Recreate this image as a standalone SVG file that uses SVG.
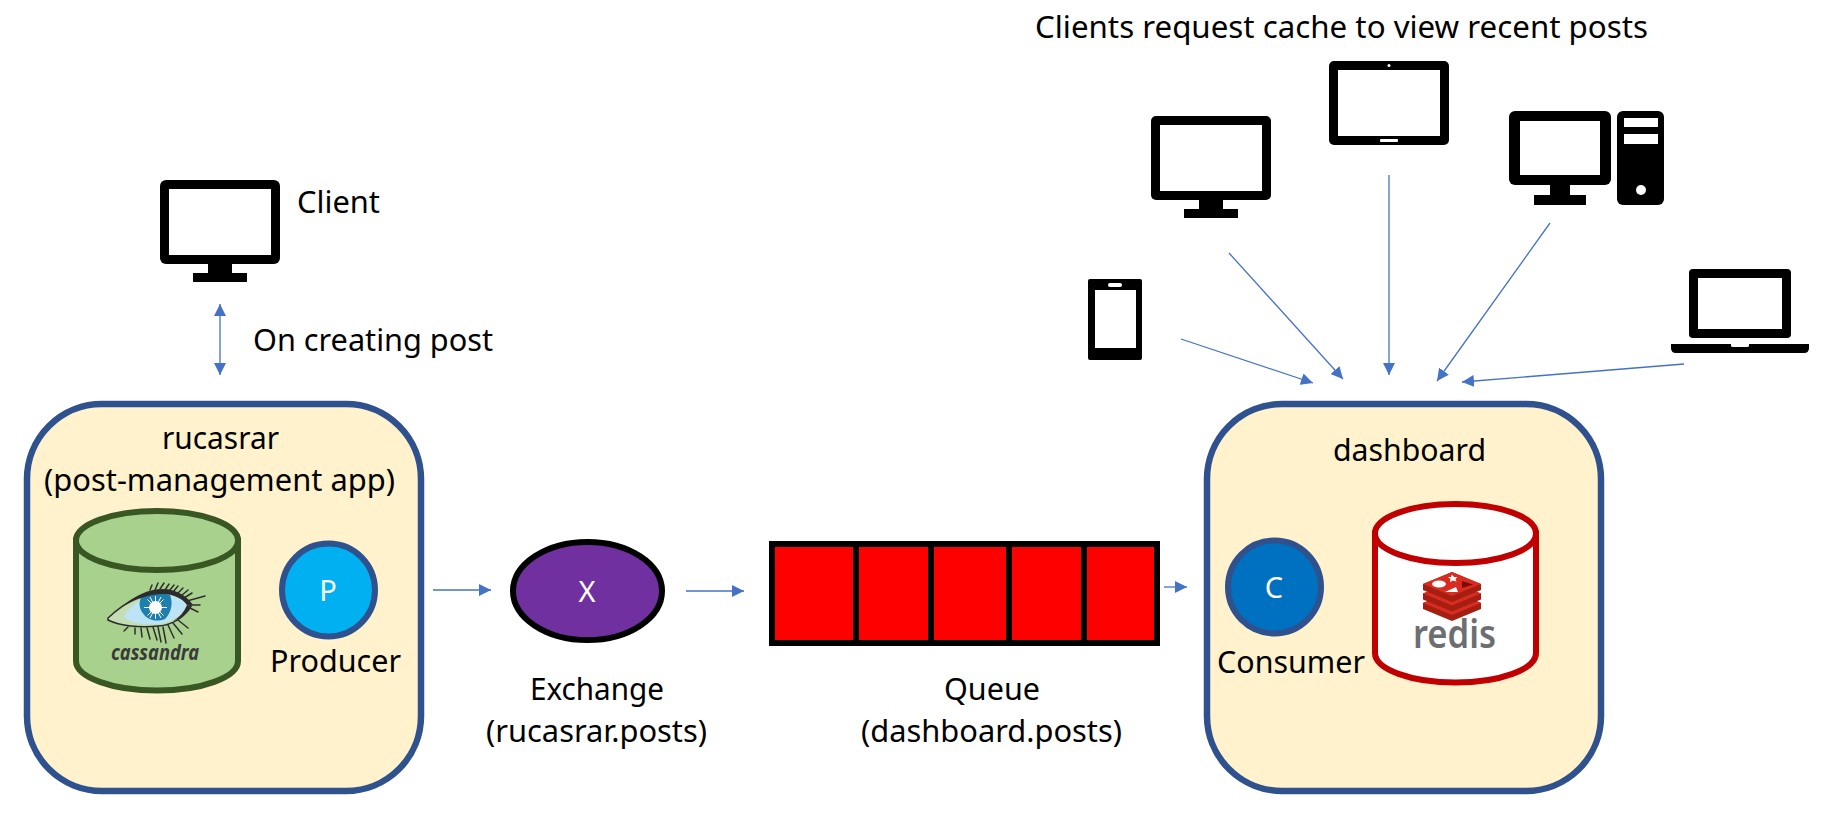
<svg xmlns="http://www.w3.org/2000/svg" width="1826" height="813" viewBox="0 0 1826 813">
<style>
text{font-family:"Noto Sans","Open Sans","Liberation Sans",sans-serif;font-size:31px;fill:#000}
.w{fill:#fff;font-size:29px}
.box{fill:#FFF2CC;stroke:#2F528F;stroke-width:6.500}
.k{fill:#000}.i{fill:#fff}
.c{fill:none;stroke:#4472C4;stroke-width:1.300}
.a{marker-end:url(#ah)}
.lash{stroke:#2f2f2f;stroke-width:1.500;fill:none;stroke-linecap:round}
</style>
<defs>
<marker id="ah" markerUnits="userSpaceOnUse" markerWidth="12" markerHeight="12" refX="12" refY="6" orient="auto"><path d="M0 0L12 6L0 12Z" fill="#4472C4"/></marker>
<marker id="as" markerUnits="userSpaceOnUse" markerWidth="12" markerHeight="12" refX="12" refY="6" orient="auto-start-reverse"><path d="M0 0L12 6L0 12Z" fill="#4472C4"/></marker>
<path id="rl" d="M1423 584L1452 572L1481 584V590L1452 602L1423 590Z" fill="#A41E11"/>
<path id="rt" d="M1423 584L1452 572L1481 584L1452 596Z" fill="#D82C20"/>
</defs>

<g id="connectors">
<path class="c" d="M220 304V375" marker-start="url(#as)" marker-end="url(#as)"/>
<path class="c a" d="M433 590H491"/>
<path class="c a" d="M686 591H744"/>
<path class="c a" d="M1164 587H1187"/>
<path class="c a" d="M1181 339L1313 383"/>
<path class="c a" d="M1229 253L1343 379"/>
<path class="c a" d="M1389 175V375"/>
<path class="c a" d="M1550 223L1437 381"/>
<path class="c a" d="M1684 364L1462 382"/>
</g>

<g id="client-monitor">
<rect class="k" x="160" y="180" width="120" height="84" rx="6"/><rect class="i" x="169" y="189" width="102" height="66"/>
<rect class="k" x="208" y="264" width="24" height="9"/><rect class="k" x="193" y="273" width="54" height="9"/>
<text x="297" y="213" textLength="83" lengthAdjust="spacingAndGlyphs">Client</text>
</g>
<text id="label-post" x="253" y="351" textLength="240" lengthAdjust="spacingAndGlyphs">On creating post</text>
<text id="label-clients" x="1035" y="38" textLength="613" lengthAdjust="spacingAndGlyphs">Clients request cache to view recent posts</text>

<g id="rucasrar">
<rect class="box" x="27" y="404" width="394" height="387" rx="75"/>
<text x="162" y="449" textLength="117" lengthAdjust="spacingAndGlyphs">rucasrar</text>
<text x="44" y="491" textLength="351" lengthAdjust="spacingAndGlyphs">(post-management app)</text>
</g>
<g id="cassandra">
<path d="M76 540.500V661a81 29.500 0 0 0 162 0V540.500Z" fill="#A9D18E" stroke="#385723" stroke-width="6"/>
<ellipse cx="157" cy="540.500" rx="81" ry="29.500" fill="#A9D18E" stroke="#385723" stroke-width="6"/>
<path d="M108 618C122 605 140 592 163 591C176 591 186 597 191 605C186 616 174 625 158 626C140 628 120 626 108 620Z" fill="#C4DDB4" stroke="#2c2c2c" stroke-width="1.500"/>
<path d="M124 617C130 604 145 595 163 595C174 595 183 599 187 605C183 615 171 623 157 624C143 625 130 623 124 617Z" fill="#BDE3F7"/>
<path d="M141 598C148 593 160 592 170 595C173 602 172 612 165 619C155 623 146 619 142 612C139 607 139 602 141 598Z" fill="#1D7FAE"/>
<circle cx="155.500" cy="607.500" r="6.500" fill="#fff"/>
<path d="M155.500 596V619M144 607.500H167M147.500 599.500L163.500 615.500M163.500 599.500L147.500 615.500M150 597L161 618M161 597L150 618" stroke="#fff" stroke-width="1"/>
<path d="M122 607C134 596 148 589 163 589C176 589 187 596 193 605L187 605C182 598 173 594 163 594C148 594 134 600 122 607Z" fill="#2c2c2c"/>
<path d="M187 605C184 612 180 617 173 621C180 619 188 614 192 606Z" fill="#2c2c2c"/>
<path class="lash" d="M150 590L152 585M155 590L158 583M160 589L164 583M165 590L169 584M169 591L174 585M173 592L178 586M177 594L183 588M181 596L188 590M184 598L192 593M187 601L205 596M189 605L200 605M190 608L198 612M128 627L124 631M135 628L135 634M141 628L142 637M147 628L150 639M153 627L157 640M158 627L161 642M163 627L166 643M168 625L174 638M173 623L182 634M178 620L188 628"/>
<text x="111" y="660" textLength="88" lengthAdjust="spacingAndGlyphs" style="font-size:22px;font-weight:700;font-style:italic;fill:#3a3a3a">cassandra</text>
</g>
<g id="producer">
<circle cx="328.500" cy="590" r="46.500" fill="#00B0F0" stroke="#2F528F" stroke-width="6"/>
<text class="w" x="328" y="601" text-anchor="middle">P</text>
<text x="270" y="672" textLength="131" lengthAdjust="spacingAndGlyphs">Producer</text>
</g>

<g id="exchange">
<ellipse cx="587.500" cy="591" rx="74.500" ry="49" fill="#7030A0" stroke="#000" stroke-width="6"/>
<text class="w" x="587" y="602" text-anchor="middle">X</text>
<text x="530" y="700" textLength="134" lengthAdjust="spacingAndGlyphs">Exchange</text>
<text x="486" y="742" textLength="221" lengthAdjust="spacingAndGlyphs">(rucasrar.posts)</text>
</g>

<g id="queue">
<rect class="k" x="769" y="541" width="391" height="105"/>
<g fill="#f00">
<rect x="775" y="547" width="78" height="93"/><rect x="859" y="547" width="69" height="93"/><rect x="934" y="547" width="72" height="93"/><rect x="1012" y="547" width="69" height="93"/><rect x="1087" y="547" width="67" height="93"/>
</g>
<text x="944" y="700" textLength="96" lengthAdjust="spacingAndGlyphs">Queue</text>
<text x="861" y="742" textLength="261" lengthAdjust="spacingAndGlyphs">(dashboard.posts)</text>
</g>

<g id="dashboard">
<rect class="box" x="1207" y="404" width="394" height="387" rx="75"/>
<text x="1333" y="461" textLength="153" lengthAdjust="spacingAndGlyphs">dashboard</text>
</g>
<g id="consumer">
<circle cx="1274.500" cy="587" r="46.500" fill="#0070C0" stroke="#2F528F" stroke-width="6"/>
<text class="w" x="1274" y="598" text-anchor="middle">C</text>
<text x="1217" y="673" textLength="148" lengthAdjust="spacingAndGlyphs">Consumer</text>
</g>
<g id="redis">
<path d="M1375 533.500V653a80.500 29.500 0 0 0 161 0V533.500Z" fill="#fff" stroke="#C00000" stroke-width="6"/>
<ellipse cx="1455.500" cy="533.500" rx="80.500" ry="29.500" fill="#fff" stroke="#C00000" stroke-width="6"/>
<use href="#rl" y="19"/><use href="#rt" y="19"/>
<use href="#rl" y="9.500"/><use href="#rt" y="9.500"/>
<use href="#rl"/><use href="#rt"/>
<path d="M1452 574.500L1454 577L1457.500 577L1455.500 579L1456.500 581.500L1453 580.500L1450 582L1450.500 579L1448 577L1451 577Z" fill="#fff"/>
<ellipse cx="1439" cy="584" rx="7" ry="3.500" fill="#fff"/>
<path d="M1445 592L1456 587L1458 592Z" fill="#fff"/>
<path d="M1462 581L1473 584.500L1462 588Z" fill="#7A0C00"/>
<text x="1413" y="648" textLength="83" lengthAdjust="spacingAndGlyphs" style="font-size:39px;font-weight:600;fill:#6D6E71">redis</text>
</g>

<g id="phone">
<rect class="k" x="1088" y="279" width="54" height="81" rx="2"/><rect class="i" x="1095" y="290" width="41" height="58"/><rect class="i" x="1108" y="283" width="14" height="4" rx="2"/>
</g>
<g id="monitor">
<rect class="k" x="1151" y="116" width="120" height="84" rx="5"/><rect class="i" x="1160" y="125" width="102" height="66"/>
<rect class="k" x="1199" y="200" width="24" height="9"/><rect class="k" x="1184" y="209" width="54" height="9"/>
</g>
<g id="tablet">
<rect class="k" x="1329" y="61" width="120" height="84" rx="5"/><rect class="i" x="1338" y="70" width="102" height="66"/>
<circle class="i" cx="1389" cy="65.500" r="1.500"/><rect class="i" x="1380" y="139" width="18" height="3" rx="1"/>
</g>
<g id="desktop">
<rect class="k" x="1509" y="111" width="102" height="74" rx="6"/><rect class="i" x="1520" y="121" width="80" height="54"/>
<rect class="k" x="1550" y="185" width="20" height="10"/><rect class="k" x="1534" y="195" width="52" height="10"/>
<rect class="k" x="1617" y="111" width="47" height="94" rx="6"/><rect class="i" x="1624" y="118" width="34" height="9"/><rect class="i" x="1624" y="134" width="34" height="10"/>
<ellipse class="i" cx="1641" cy="190" rx="5" ry="5"/>
</g>
<g id="laptop">
<rect class="k" x="1689" y="269" width="102" height="69" rx="4"/><rect class="i" x="1698" y="278" width="84" height="51"/>
<path class="k" d="M1671 344H1731V346Q1731 347 1733 347H1747Q1749 347 1749 346V344H1809V348Q1809 353 1804 353H1676Q1671 353 1671 348Z"/>
</g>
</svg>
